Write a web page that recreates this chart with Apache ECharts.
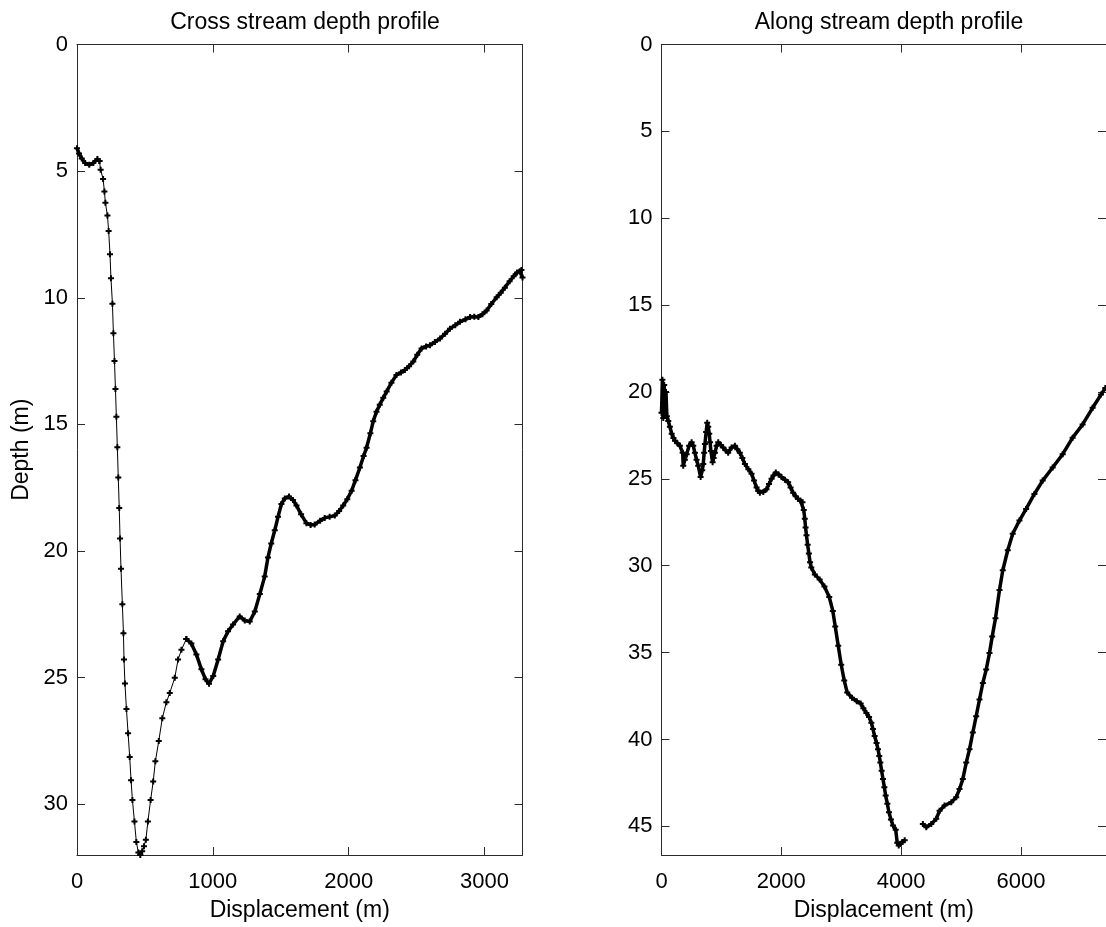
<!DOCTYPE html>
<html>
<head>
<meta charset="utf-8">
<title>Depth profiles</title>
<script src="https://cdn.jsdelivr.net/npm/echarts@6.0.0/dist/echarts.min.js"></script>
<style>
  html, body { margin: 0; padding: 0; background: #fff; }
  #main { width: 1106px; height: 927px; }
</style>
</head>
<body>
<div id="main"></div>
<script>
// cross stream profile, [displacement m, depth m]
var crossTop = [[0,4.1],[15,4.3],[35,4.5],[60,4.68],[90,4.75],[120,4.68],[150,4.52],[165,4.6]];
var crossSteep = [[165,4.6],[174,4.95],[192,5.31],[202,5.8],[209,6.25],[224,6.75],[233,7.36],[243,8.28],[250,9.23],[261,10.24],
  [268,11.4],[276,12.5],[283,13.6],[290,14.7],[297,15.9],[304,17.1],[311,18.3],[317,19.5],[324,20.7],[334,22.1],[342,23.24],
  [346,24.28],[353,25.23],[364,26.24],[376,27.19],[388,28.13],[398,29.05],[408,29.83],[423,30.68],[437,31.49],[452,31.9],
  [466,32.0],[480,31.85],[493,31.65],[507,31.4],[522,30.68],[542,29.83],[561,29.1],[577,28.3],[602,27.5],[628,26.6],
  [658,25.97],[683,25.6],[720,25.0],[744,24.28],[769,23.9],[805,23.47]];
var crossRise = [[805,23.47],[842,23.65],[879,24.08],[916,24.67],[946,25.06],[972,25.24],[1003,24.93],[1039,24.28],[1076,23.56],
  [1112,23.17],[1149,22.9],[1198,22.58],[1235,22.74],[1272,22.78],[1309,22.39],[1346,21.7],[1382,21.0],[1406,20.25],[1430,19.7],
  [1456,19.18],[1480,18.65],[1505,18.14],[1530,17.92],[1561,17.85],[1590,17.98],[1616,18.2],[1650,18.55],[1689,18.9],[1720,18.97],
  [1750,18.95],[1790,18.8],[1824,18.69],[1860,18.65],[1898,18.6],[1930,18.42],[1960,18.2],[1990,17.95],[2022,17.62],[2050,17.2],
  [2083,16.7],[2110,16.25],[2132,15.92],[2160,15.35],[2181,14.87],[2205,14.5],[2229,14.22],[2255,13.95],[2280,13.7],[2315,13.35],
  [2352,13.05],[2385,12.95],[2414,12.85],[2445,12.7],[2476,12.52],[2505,12.25],[2537,12.0],[2570,11.92],[2599,11.87],[2635,11.75],
  [2673,11.61],[2710,11.42],[2746,11.22],[2785,11.08],[2820,10.95],[2860,10.85],[2894,10.76],[2925,10.75],[2955,10.76],[2985,10.65],
  [3016,10.5],[3050,10.25],[3090,9.98],[3120,9.8],[3150,9.6],[3185,9.35],[3215,9.15],[3240,9.0],[3260,8.95],[3272,8.9],[3280,9.2]];

// along stream profile, two pieces with a gap
var alongA = [[0,21.2],[15,19.3],[30,21.5],[45,19.6],[60,21.3],[75,20.0],[90,21.4],[113,21.67],[140,22.0],[170,22.4],[200,22.65],
  [225,22.8],[265,22.95],[308,23.1],[353,23.5],[363,24.25],[390,23.9],[420,23.58],[460,23.1],[503,22.9],[530,23.1],[558,23.5],
  [585,23.9],[613,24.25],[653,24.9],[680,24.5],[697,24.15],[712,23.5],[725,23.0],[745,22.3],[763,21.77],[780,22.0],[797,22.4],
  [811,22.9],[825,23.4],[853,24.05],[870,23.8],[892,23.5],[920,23.1],[947,22.9],[990,23.05],[1030,23.2],[1070,23.35],[1113,23.5],
  [1170,23.2],[1225,23.1],[1265,23.3],[1308,23.5],[1350,23.8],[1392,24.15],[1450,24.45],[1503,24.7],[1545,25.1],[1587,25.5],
  [1615,25.7],[1642,25.8],[1700,25.75],[1753,25.6],[1795,25.3],[1837,25.0],[1870,24.8],[1908,24.63],[1955,24.75],[2003,24.9],
  [2060,25.05],[2114,25.2],[2155,25.5],[2197,25.8],[2240,26.0],[2280,26.16],[2320,26.25],[2353,26.35],[2375,26.8],[2392,27.3],
  [2405,27.8],[2420,28.25],[2440,28.8],[2460,29.3],[2480,29.8],[2500,30.1],[2560,30.5],[2640,30.8],[2720,31.2],[2800,31.8],
  [2860,32.6],[2900,33.5],[2950,34.6],[3000,35.7],[3050,36.6],[3100,37.3],[3180,37.6],[3260,37.8],[3325,37.93],[3370,38.2],
  [3420,38.47],[3465,38.7],[3503,39.04],[3530,39.4],[3558,39.8],[3590,40.2],[3614,40.56],[3635,40.95],[3653,41.33],[3675,41.8],
  [3697,42.28],[3720,42.75],[3742,43.23],[3770,43.7],[3797,44.19],[3830,44.6],[3864,44.95],[3910,45.2],[3935,45.95],[3960,46.1],
  [3990,46.0],[4020,45.9],[4060,45.8]];
var alongB = [[4363,44.86],[4420,45.05],[4503,44.86],[4587,44.57],[4642,44.1],[4725,43.8],[4837,43.62],[4920,43.33],[4975,42.85],
  [5030,42.28],[5087,41.33],[5142,40.56],[5197,39.6],[5253,38.66],[5308,37.7],[5364,36.75],[5420,35.98],[5475,35.03],[5520,34.08],
  [5575,33.03],[5642,31.4],[5697,30.26],[5780,29.11],[5863,28.16],[5975,27.4],[6087,26.73],[6225,25.87],[6363,25.1],[6530,24.35],
  [6697,23.58],[6863,22.63],[7030,21.87],[7197,20.91],[7337,20.15],[7408,19.77]];

var crossXTicks = [0, 1000, 2000, 3000];
var crossYTicks = [0, 5, 10, 15, 20, 25, 30];
var alongXTicks = [0, 2000, 4000, 6000];
var alongYTicks = [0, 5, 10, 15, 20, 25, 30, 35, 40, 45];

var chart = echarts.init(document.getElementById('main'));
var FONT = '"Liberation Sans", Arial, sans-serif';
var axisColor = '#2b2b2b';
var plus = 'path://M2,0H4V2H6V4H4V6H2V4H0V2H2Z';

function plain(v) { return String(v); }

function xAxisOf(grid, max, ticks, bottom) {
  return {
    type: 'value', gridIndex: grid, min: 0, max: max,
    position: bottom ? 'bottom' : 'top',
    name: bottom ? 'Displacement (m)' : '', nameLocation: 'middle', nameGap: 44,
    nameTextStyle: { color: '#000', fontSize: 23, fontFamily: FONT },
    axisLine: { onZero: false, lineStyle: { color: axisColor, width: 1 } },
    axisTick: { inside: true, length: 8, customValues: ticks, lineStyle: { color: axisColor } },
    axisLabel: { show: bottom, customValues: ticks, formatter: plain, margin: 16, color: '#000', fontSize: 22, fontFamily: FONT },
    splitLine: { show: false }
  };
}
function yAxisOf(grid, max, ticks, left, name) {
  return {
    type: 'value', gridIndex: grid, min: 0, max: max, inverse: true,
    position: left ? 'left' : 'right',
    name: left ? name : '', nameLocation: 'middle', nameGap: 44,
    nameTextStyle: { color: '#000', fontSize: 23, fontFamily: FONT },
    axisLine: { onZero: false, lineStyle: { color: axisColor, width: 1 } },
    axisTick: { inside: true, length: 8, customValues: ticks, lineStyle: { color: axisColor } },
    axisLabel: { show: left, customValues: ticks, formatter: plain, margin: 9, color: '#000', fontSize: 22, fontFamily: FONT },
    splitLine: { show: false }
  };
}
function profile(x, y, data, width) {
  return {
    type: 'line', xAxisIndex: x, yAxisIndex: y, data: data,
    symbol: plus, symbolSize: 6, showSymbol: true,
    itemStyle: { color: '#000' },
    lineStyle: { color: '#000', width: width },
    silent: true
  };
}

var option = {
  animation: false,
  backgroundColor: '#fff',
  title: [
    { text: 'Cross stream depth profile', left: 300, top: 6, textAlign: 'center',
      textStyle: { fontSize: 23, fontWeight: 'normal', color: '#000', fontFamily: FONT } },
    { text: 'Along stream depth profile', left: 884, top: 6, textAlign: 'center',
      textStyle: { fontSize: 23, fontWeight: 'normal', color: '#000', fontFamily: FONT } }
  ],
  grid: [
    { left: 77, top: 44.5, width: 445.5, height: 815 },
    { left: 661.5, top: 44.5, width: 445, height: 815 }
  ],
  xAxis: [
    xAxisOf(0, 3280, crossXTicks, true),
    xAxisOf(0, 3280, crossXTicks, false),
    xAxisOf(1, 7420, alongXTicks, true),
    xAxisOf(1, 7420, alongXTicks, false)
  ],
  yAxis: [
    yAxisOf(0, 32, crossYTicks, true, 'Depth (m)'),
    yAxisOf(0, 32, crossYTicks, false),
    yAxisOf(1, 46.65, alongYTicks, true, ''),
    yAxisOf(1, 46.65, alongYTicks, false)
  ],
  series: [
    profile(0, 0, crossTop, 3.5),
    profile(0, 0, crossSteep, 1),
    profile(0, 0, crossRise, 3.5),
    profile(2, 2, alongA, 3.5),
    profile(2, 2, alongB, 3.5)
  ]
};
chart.setOption(option);
</script>
</body>
</html>
